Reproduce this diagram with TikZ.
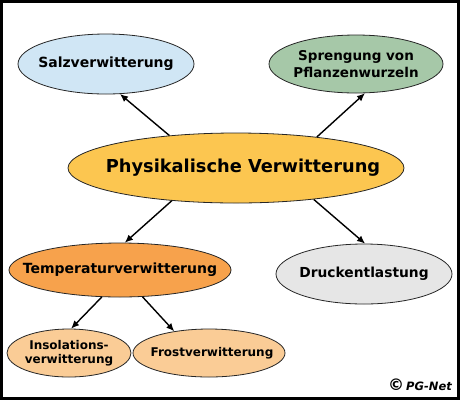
\documentclass[tikz,border=0pt]{standalone}
\usepackage{fontspec}
\setmainfont{DejaVu Sans}
\usetikzlibrary{shapes.geometric,arrows.meta}
\definecolor{salzc}{RGB}{208,230,245}
\definecolor{sprc}{RGB}{166,200,168}
\definecolor{physc}{RGB}{252,198,80}
\definecolor{tempc}{RGB}{247,162,76}
\definecolor{druckc}{RGB}{230,230,230}
\definecolor{subc}{RGB}{250,204,150}
\tikzset{
  bub/.style={ellipse, draw=black!85, line width=0.8pt, inner sep=0pt},
  lab/.style={align=center, inner sep=0pt},
  arr/.style={-{Latex[length=8pt,width=7pt]}, line width=1.4pt},
}
\begin{document}
\begin{tikzpicture}[x=1pt,y=-1pt]
\useasboundingbox (0,0) rectangle (460,400);
\fill[white] (0,0) rectangle (460,400);
\draw[line width=3pt] (1.5,1.5) rectangle (458.5,398.5);
\node[bub, fill=salzc, minimum width=176pt, minimum height=60pt,
  label={[lab, font=\bfseries\fontsize{14}{16}\selectfont]center:Salzverwitterung}] (salz) at (106,64) {};
\node[bub, fill=sprc, minimum width=174pt, minimum height=58pt,
  label={[lab, font=\bfseries\fontsize{13.5}{17.5}\selectfont]center:Sprengung von\\Pflanzenwurzeln}] (spr) at (356,64) {};
\node[bub, fill=physc, minimum width=336pt, minimum height=70pt,
  label={[lab, xshift=7pt, font=\bfseries\fontsize{17.8}{20}\selectfont]center:Physikalische Verwitterung}] (phys) at (236,168) {};
\node[bub, fill=tempc, minimum width=222pt, minimum height=54pt,
  label={[lab, font=\bfseries\fontsize{14}{17}\selectfont]center:Temperaturverwitterung}] (temp) at (120,270) {};
\node[bub, fill=druckc, minimum width=176pt, minimum height=60pt,
  label={[lab, font=\bfseries\fontsize{13.8}{16}\selectfont]center:Druckentlastung}] (druck) at (364,274) {};
\node[bub, fill=subc, minimum width=124pt, minimum height=48pt,
  label={[lab, font=\bfseries\fontsize{12}{14}\selectfont]center:Insolations-\\verwitterung}] (ins) at (69,353) {};
\node[bub, fill=subc, minimum width=152pt, minimum height=48pt,
  label={[lab, xshift=3pt, font=\bfseries\fontsize{12}{14}\selectfont]center:Frostverwitterung}] (frost) at (209,353) {};
\node[font=\bfseries\itshape\fontsize{11.5}{13}\selectfont, anchor=east, inner sep=0pt] (copy) at (452,385) {{\upshape\fontsize{16}{16}\selectfont ©}\kern2pt PG-Net};
\draw[arr] (phys.154) -- (salz.-65);
\draw[arr] (phys.21) -- (spr.-73);
\draw[arr] (phys.-153) -- (temp.80);
\draw[arr] (phys.-22) -- (druck.88);
\draw[arr] (temp.-124) -- (ins.85);
\draw[arr] (temp.-50) -- (frost.148);
\end{tikzpicture}
\end{document}
